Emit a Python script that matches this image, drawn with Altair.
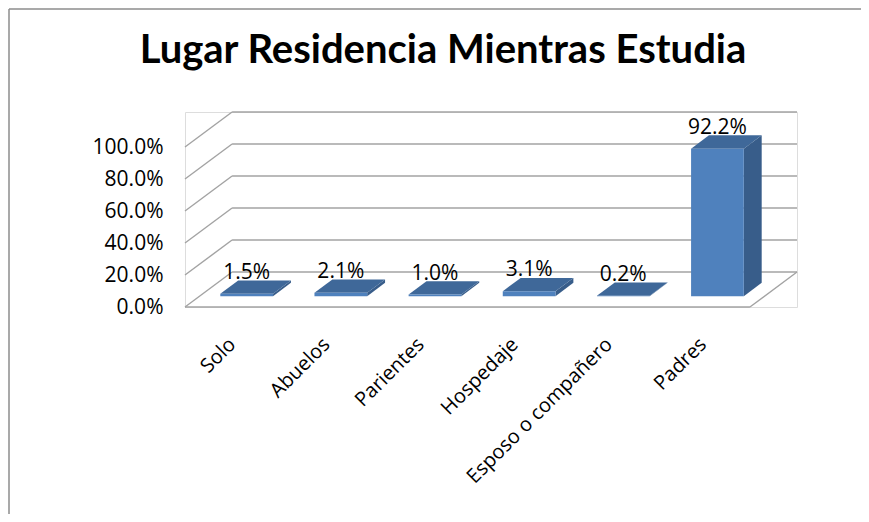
import altair as alt
import pandas as pd

categories = ["Solo", "Abuelos", "Parientes", "Hospedaje", "Esposo o compañero", "Padres"]
values = [1.5, 2.1, 1.0, 3.1, 0.2, 92.2]
value_labels = ["1.5%", "2.1%", "1.0%", "3.1%", "0.2%", "92.2%"]
y_ticks = [0, 20, 40, 60, 80, 100]

# 3D geometry (depth offset expressed in data units)
DX = 0.5       # full depth, in category units
DY = 21.875    # full depth, in value units
F0, F1 = 0.31, 0.69
BW = 0.56

n = len(categories)
xs = alt.Scale(domain=[0, n + DX], nice=False, zero=False)
ys = alt.Scale(domain=[0, 100 + DY], nice=False, zero=False)

front, side, top, labels = [], [], [], []
for i, (c, v, lab) in enumerate(zip(categories, values, value_labels)):
    xl = i + 0.5 - BW / 2 + F0 * DX
    xr = xl + BW
    d = (F1 - F0)
    front.append(dict(cat=c, x=xl, x2=xr, y=F0 * DY, y2=v + F0 * DY))
    side.append(dict(cat=c, x=xr, y=F0 * DY, y2=v + F0 * DY))
    side.append(dict(cat=c, x=xr + d * DX, y=F1 * DY, y2=v + F1 * DY))
    top.append(dict(cat=c, y=v + F0 * DY, x=xl, x2=xr))
    top.append(dict(cat=c, y=v + F1 * DY, x=xl + d * DX, x2=xr + d * DX))
    labels.append(dict(cat=c, x=i + 0.5 + F0 * DX, y=v + F0 * DY, label=lab))

grid = []
for t in y_ticks:
    grid.append(dict(x=DX, x2=n + DX, y=t + DY, y2=t + DY))   # back wall line
    grid.append(dict(x=0, x2=DX, y=t, y2=t + DY))             # left wall diagonal
grid.append(dict(x=0, x2=n, y=0, y2=0))                       # floor front edge
grid.append(dict(x=n, x2=n + DX, y=0, y2=DY))                 # floor right edge

GRID = "#a3a3a3"
FONT = "Open Sans"
FS = 21

label_expr = "[" + ",".join("'" + c + "'" for c in categories) + "][round(datum.value - 0.5)]"

X_AXIS = alt.Axis(
    values=[i + 0.5 for i in range(n)], labelExpr=label_expr, title=None,
    labelAngle=-45, labelAlign="right", labelBaseline="middle",
    labelPadding=34, ticks=False, tickSize=0, domain=False, grid=False,
    labelFont=FONT, labelFontSize=20, labelColor="#000000", labelLimit=0,
    labelOverlap=False, labelFlush=False, labelBound=False,
)
Y_AXIS = alt.Axis(
    values=y_ticks, labelExpr="format(datum.value, '.1f') + '%'", title=None,
    ticks=False, tickSize=0, domain=False, grid=False, labelPadding=22,
    labelFont=FONT, labelFontSize=FS, labelColor="#000000", labelLimit=0,
    labelOverlap=False, labelFlush=False, labelBound=False,
)

grid_layer = alt.Chart(pd.DataFrame(grid)).mark_rule(color=GRID, strokeWidth=1.4).encode(
    x=alt.X("x:Q", scale=xs, axis=X_AXIS),
    x2="x2:Q",
    y=alt.Y("y:Q", scale=ys, axis=Y_AXIS),
    y2="y2:Q",
)

side_layer = alt.Chart(pd.DataFrame(side)).mark_area(color="#385d8a", opacity=1).encode(
    x=alt.X("x:Q", scale=xs, axis=X_AXIS),
    y=alt.Y("y:Q", scale=ys, axis=Y_AXIS, stack=None),
    y2="y2:Q",
    detail="cat:N",
)

top_layer = alt.Chart(pd.DataFrame(top)).mark_area(color="#3f6899", orient="horizontal", opacity=1).encode(
    y=alt.Y("y:Q", scale=ys, axis=Y_AXIS),
    x=alt.X("x:Q", scale=xs, axis=X_AXIS, stack=None),
    x2="x2:Q",
    detail="cat:N",
)

front_layer = alt.Chart(pd.DataFrame(front)).mark_rect(color="#4f81bd").encode(
    x=alt.X("x:Q", scale=xs, axis=X_AXIS),
    x2="x2:Q",
    y=alt.Y("y:Q", scale=ys, axis=Y_AXIS),
    y2="y2:Q",
)

text_layer = alt.Chart(pd.DataFrame(labels)).mark_text(
    font=FONT, fontSize=FS, color="#000000", baseline="middle", align="center", dy=-21
).encode(
    x=alt.X("x:Q", scale=xs, axis=X_AXIS),
    y=alt.Y("y:Q", scale=ys, axis=Y_AXIS),
    text="label:N",
)

frame_df = pd.DataFrame([dict(k="frame")])
frame_top = alt.Chart(frame_df).mark_rule(color="#8c8c8c", strokeWidth=1.5).encode(
    x=alt.value(-176), x2=alt.value(700), y=alt.value(-103), y2=alt.value(-103)
)
frame_left = alt.Chart(frame_df).mark_rule(color="#8c8c8c", strokeWidth=1.5).encode(
    x=alt.value(-176), x2=alt.value(-176), y=alt.value(-103), y2=alt.value(402)
)

chart = alt.layer(
    grid_layer, side_layer, top_layer, front_layer, text_layer, frame_top, frame_left
).properties(
    width=612,
    height=195,
    padding={"left": 177, "top": 104, "right": 64, "bottom": 207},
    autosize=alt.AutoSizeParams(type="none"),
    title=alt.TitleParams(
        "Lugar Residencia Mientras Estudia",
        font="Lato", fontSize=40, fontWeight="bold", color="#000000",
        anchor="middle", frame="group", dx=-48, offset=-95, baseline="alphabetic",
    ),
).configure_view(stroke="transparent", strokeWidth=0).configure(background="#ffffff")

chart.save("out.html", embed_options={"renderer": "svg", "actions": False})
